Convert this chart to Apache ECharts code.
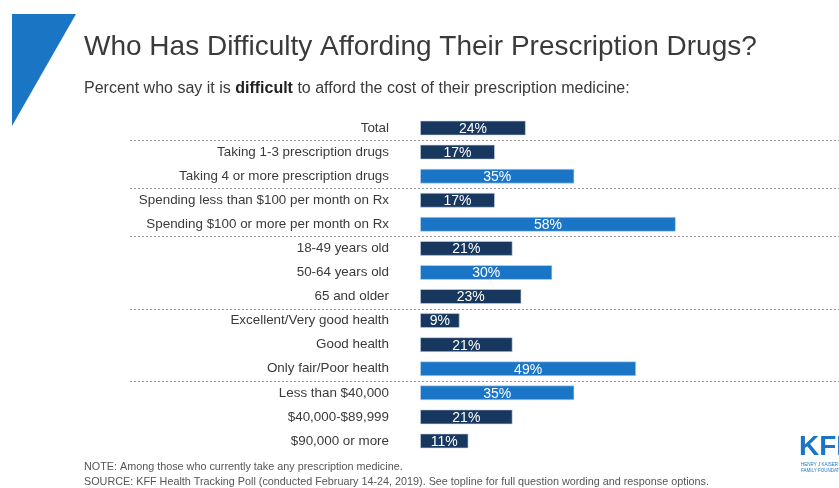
<!DOCTYPE html>
<html>
<head>
<meta charset="utf-8">
<script src="https://cdn.jsdelivr.net/npm/echarts@6/dist/echarts.min.js"></script>
<style>
  html, body { margin: 0; padding: 0; background: #fff; }
  #chart { width: 839px; height: 488px; }
</style>
</head>
<body>
<div id="chart"></div>
<script>
const categories = [
  'Total',
  'Taking 1-3 prescription drugs',
  'Taking 4 or more prescription drugs',
  'Spending less than $100 per month on Rx',
  'Spending $100 or more per month on Rx',
  '18-49 years old',
  '50-64 years old',
  '65 and older',
  'Excellent/Very good health',
  'Good health',
  'Only fair/Poor health',
  'Less than $40,000',
  '$40,000-$89,999',
  '$90,000 or more'
];
const values = [24, 17, 35, 17, 58, 21, 30, 23, 9, 21, 49, 35, 21, 11];
// groups that stand out in the lighter blue
const highlighted = [
  'Taking 4 or more prescription drugs',
  'Spending $100 or more per month on Rx',
  '50-64 years old',
  'Only fair/Poor health',
  'Less than $40,000'
];
// dotted rule drawn under these rows
const groupEnds = ['Total', 'Taking 4 or more prescription drugs',
  'Spending $100 or more per month on Rx', '65 and older', 'Only fair/Poor health'];

const DARK = '#17375e';
const LIGHT = '#1a75c6';
const FONT = 'Liberation Sans, Arial, sans-serif';

const chart = echarts.init(document.getElementById('chart'));

const option = {
  animation: false,
  backgroundColor: '#fff',
  grid: { left: 420, right: 66, top: 116, bottom: 35 },
  xAxis: {
    type: 'value',
    min: 0,
    max: 80,
    show: false
  },
  yAxis: {
    type: 'category',
    data: categories,
    inverse: true,
    axisLine: { show: false },
    axisTick: { show: false },
    axisLabel: {
      margin: 31,
      color: '#3a3a3a',
      fontSize: 13.4,
      fontFamily: FONT
    }
  },
  series: [{
    type: 'bar',
    barWidth: 15,
    data: values,
    itemStyle: {
      color: (p) => highlighted.includes(p.name) ? LIGHT : DARK,
      borderColor: 'rgba(200,215,235,0.6)',
      borderWidth: 1
    },
    label: {
      show: true,
      position: 'inside',
      offset: [0, 1],
      formatter: '{c}%',
      color: '#fff',
      fontSize: 14,
      fontFamily: FONT
    }
  }],
  graphic: [
    {
      type: 'polygon',
      shape: { points: [[12, 14], [76, 14], [12, 126]] },
      style: { fill: '#1b75c5' }
    },
    {
      type: 'text',
      left: 84, top: 33,
      style: {
        text: 'Who Has Difficulty Affording Their Prescription Drugs?',
        fontSize: 28,
        fill: '#3a3a3a',
        fontFamily: FONT
      }
    },
    {
      type: 'text',
      left: 84, top: 81,
      style: {
        text: '{n|Percent who say it is }{b|difficult}{n| to afford the cost of their prescription medicine:}',
        rich: {
          n: { fontSize: 16, fill: '#3a3a3a', fontFamily: FONT },
          b: { fontSize: 16, fill: '#222', fontWeight: 'bold', fontFamily: FONT }
        }
      }
    },
    {
      type: 'text',
      left: 84, top: 462,
      style: {
        text: 'NOTE: Among those who currently take any prescription medicine.',
        fontSize: 10.8,
        fill: '#555',
        fontFamily: FONT
      }
    },
    {
      type: 'text',
      left: 84, top: 477,
      style: {
        text: 'SOURCE: KFF Health Tracking Poll (conducted February 14-24, 2019). See topline for full question wording and response options.',
        fontSize: 10.8,
        fill: '#555',
        fontFamily: FONT
      }
    },
    {
      type: 'text',
      left: 799, top: 433,
      style: {
        text: 'KFF',
        fontSize: 28,
        fontWeight: 'bold',
        fill: '#1b75c5',
        fontFamily: FONT
      }
    },
    {
      type: 'text',
      left: 801, top: 462,
      style: {
        text: 'HENRY J KAISER\nFAMILY FOUNDATION',
        fontSize: 4.5,
        lineHeight: 6,
        fill: '#1b75c5',
        fontFamily: FONT
      }
    }
  ]
};

chart.setOption(option);

// dotted separators between groups, placed on category band edges
const y0 = chart.convertToPixel({ yAxisIndex: 0 }, categories[0]);
const y1 = chart.convertToPixel({ yAxisIndex: 0 }, categories[1]);
const band = y1 - y0;
const rules = groupEnds.map((name) => {
  const y = Math.round(chart.convertToPixel({ yAxisIndex: 0 }, name) + band / 2) + 0.5;
  return {
    type: 'line',
    shape: { x1: 130, y1: y, x2: 839, y2: y },
    style: { stroke: '#9a9a9a', lineWidth: 1, lineDash: [2, 2] },
    z: 1
  };
});
chart.setOption({ graphic: option.graphic.concat(rules) });
</script>
</body>
</html>
